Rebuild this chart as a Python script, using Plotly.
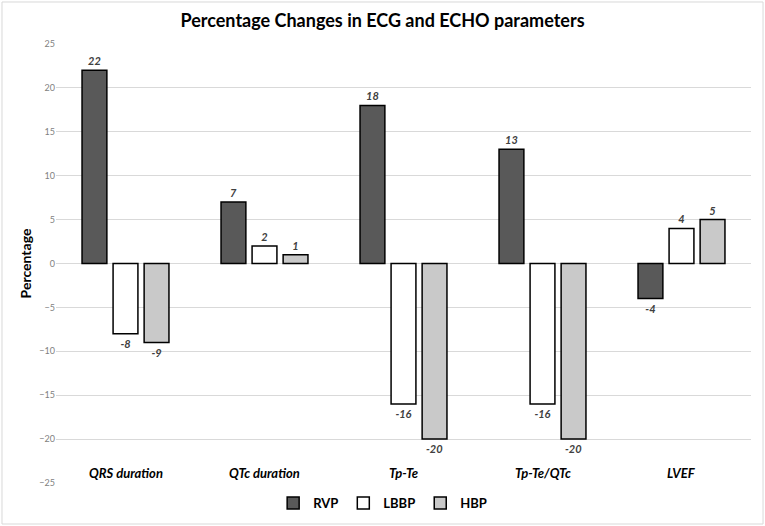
import plotly.graph_objects as go

categories = ["QRS duration", "QTc duration", "Tp-Te", "Tp-Te/QTc", "LVEF"]
rvp = [22, 7, 18, 13, -4]
lbbp = [-8, 2, -16, -16, 4]
hbp = [-9, 1, -20, -20, 5]
y_ticks = [-25, -20, -15, -10, -5, 0, 5, 10, 15, 20, 25]

FONT = "Lato"
series = [("RVP", rvp, "#595959"), ("LBBP", lbbp, "#ffffff"), ("HBP", hbp, "#c9c9c9")]

fig = go.Figure()
for name, vals, col in series:
    fig.add_trace(go.Bar(
        x=categories, y=vals, name=name,
        marker=dict(color=col, line=dict(color="#000000", width=1.5)),
        text=[str(v) for v in vals], textposition="outside",
        textfont=dict(family=FONT, size=11, color="#404040", weight="bold", style="italic"),
        cliponaxis=False,
    ))

for c in categories:
    fig.add_annotation(x=c, y=-23.9, text=c, showarrow=False, xref="x", yref="y",
                       font=dict(family=FONT, size=13, color="#000000", weight="bold", style="italic"))

fig.add_shape(type="rect", xref="paper", yref="paper",
              x0=-0.0777, x1=1.0173, y0=-0.0934, y1=1.0957,
              line=dict(color="#d9d9d9", width=1), layer="below")

fig.update_layout(
    width=765, height=526,
    margin=dict(l=56, r=14, t=44, b=43, autoexpand=False),
    paper_bgcolor="white", plot_bgcolor="white",
    barmode="group", bargap=0.33, bargroupgap=0.2,
    title=dict(text="<b>Percentage Changes in ECG and ECHO parameters</b>", x=0.5, xref="container",
               xanchor="center", y=0.96, yanchor="middle",
               font=dict(family=FONT, size=18, color="#000000")),
    xaxis=dict(showticklabels=False, showgrid=False, zeroline=False, showline=False, ticks="",
               automargin=False),
    yaxis=dict(range=[-25, 25], tickvals=y_ticks, showgrid=True, gridcolor="#d9d9d9", gridwidth=1,
               zeroline=True, zerolinecolor="#d9d9d9", zerolinewidth=1, automargin=False,
               tickfont=dict(family=FONT, size=9, color="#7f7f7f"), ticks="",
               title=dict(text="<b>Percentage</b>", font=dict(family=FONT, size=14, color="#000000"), standoff=4)),
    legend=dict(orientation="h", x=0.47, xanchor="center", y=-0.0456, yanchor="middle",
                font=dict(family=FONT, size=13, color="#000000", weight="bold"),
                itemwidth=30, traceorder="normal"),
    showlegend=True,
)

fig.write_html("out.html", config={"displayModeBar": False},
               post_script="document.body.style.margin='0';")
